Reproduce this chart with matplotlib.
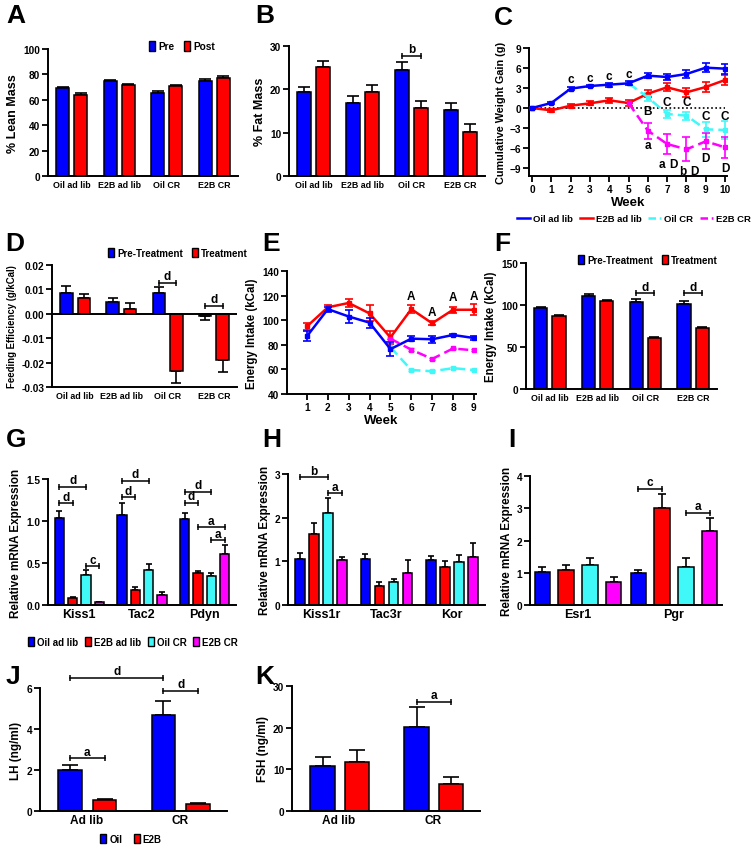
import numpy as np
import matplotlib
matplotlib.use('Agg')
import matplotlib.pyplot as plt
from matplotlib.patches import Patch
from matplotlib.lines import Line2D

plt.rcParams['font.family'] = ['Liberation Sans', 'DejaVu Sans']
plt.rcParams['font.weight'] = 'bold'
plt.rcParams['axes.labelweight'] = 'bold'
plt.rcParams['axes.linewidth'] = 1.4

# ---------------- DATA ----------------
cats4 = ['Oil ad lib', 'E2B ad lib', 'Oil CR', 'E2B CR']

# A: % lean mass
lean_pre = [69.0, 74.5, 65.5, 75.0]
lean_pre_err = [1.2, 1.0, 1.4, 1.6]
lean_post = [64.0, 71.5, 71.0, 77.5]
lean_post_err = [1.0, 1.2, 1.0, 1.0]

# B: % fat mass
fat_pre = [19.3, 16.9, 24.4, 15.3]
fat_pre_err = [1.3, 1.5, 1.8, 1.6]
fat_post = [25.2, 19.3, 15.6, 10.2]
fat_post_err = [1.4, 1.8, 1.6, 1.8]

# C: cumulative weight gain
weeks_c = [0, 1, 2, 3, 4, 5, 6, 7, 8, 9, 10]
gain_oil_adlib = [0, 0.75, 2.9, 3.3, 3.5, 3.7, 4.85, 4.65, 5.1, 6.05, 5.9]
gain_oil_adlib_err = [0.1, 0.15, 0.2, 0.2, 0.3, 0.3, 0.35, 0.4, 0.6, 0.65, 0.75]
gain_e2b_adlib = [0, -0.35, 0.35, 0.7, 1.15, 0.75, 2.15, 3.1, 2.35, 3.15, 4.2]
gain_e2b_adlib_err = [0.1, 0.2, 0.3, 0.3, 0.4, 0.5, 0.5, 0.6, 0.7, 0.7, 0.8]
weeks_c_cr = [5, 6, 7, 8, 9, 10]
gain_oil_cr = [3.7, 1.6, -0.9, -1.15, -3.2, -3.3]
gain_oil_cr_err = [0, 0.6, 0.6, 0.6, 1.1, 1.3]
gain_e2b_cr = [0.75, -3.4, -5.4, -6.2, -5.0, -5.9]
gain_e2b_cr_err = [0, 1.2, 1.5, 1.8, 1.2, 1.6]
c_letters = ['c', 'c', 'c', 'c', 'B', 'C', 'C', 'C', 'C', 'a', 'a', 'D', 'b', 'D', 'D', 'D']
c_letter_x = [2, 3, 4, 5, 6, 7, 8, 9, 10, 6, 6.75, 7.3, 7.8, 8.4, 9, 10]
c_letter_y = [4.3, 4.55, 4.75, 5.1, -0.5, 0.85, 0.85, -1.2, -1.2, -5.6, -8.4, -8.4, -9.4, -9.4, -7.5, -9.0]

# D: feeding efficiency
fe_pre = [0.0085, 0.005, 0.0085, -0.0009]
fe_pre_err = [0.003, 0.0015, 0.0025, 0.0016]
fe_trt = [0.0065, 0.002, -0.0233, -0.0191]
fe_trt_err = [0.0015, 0.0024, 0.005, 0.0049]

# E: energy intake per week
weeks_e = [1, 2, 3, 4, 5, 6, 7, 8, 9]
ei_oil_adlib = [87, 109, 103, 98, 76.5, 85, 84.5, 88, 85.5]
ei_oil_adlib_err = [4, 2, 5, 4, 6, 2, 3, 1, 2]
ei_e2b_adlib = [95, 110.5, 114, 105.5, 86, 109, 97.5, 108.5, 108.5]
ei_e2b_adlib_err = [3, 2, 3, 6.5, 5, 3.5, 1.5, 2.5, 4.5]
weeks_e_cr = [5, 6, 7, 8, 9]
ei_oil_cr = [78, 59.5, 58.5, 61, 59.5]
ei_oil_cr_err = [0, 1.0, 1.0, 0.8, 0.8]
ei_e2b_cr = [85, 76, 68.5, 77, 75.5]
ei_e2b_cr_err = [0, 1.0, 1.0, 0.8, 0.8]
e_letters = ['A', 'A', 'A', 'A']
e_letter_x = [6, 7, 8, 9]
e_letter_y = [120, 106.5, 119, 120]

# F: energy intake bars
ei_pre = [96, 111, 104, 101.5]
ei_pre_err = [2, 2, 3, 3]
ei_trt = [87, 105, 61, 73]
ei_trt_err = [0.6, 1.5, 0.5, 0.6]

groups4 = ['Oil ad lib', 'E2B ad lib', 'Oil CR', 'E2B CR']

# G
genes_g = ['Kiss1', 'Tac2', 'Pdyn']
g_oil_adlib = [1.03, 1.07, 1.02]
g_oil_adlib_err = [0.09, 0.15, 0.07]
g_e2b_adlib = [0.08, 0.18, 0.38]
g_e2b_adlib_err = [0.015, 0.04, 0.03]
g_oil_cr = [0.36, 0.42, 0.34]
g_oil_cr_err = [0.06, 0.07, 0.04]
g_e2b_cr = [0.03, 0.12, 0.61]
g_e2b_cr_err = [0.01, 0.03, 0.11]

# H
genes_h = ['Kiss1r', 'Tac3r', 'Kor']
h_oil_adlib = [1.05, 1.05, 1.02]
h_oil_adlib_err = [0.13, 0.11, 0.10]
h_e2b_adlib = [1.62, 0.43, 0.88]
h_e2b_adlib_err = [0.26, 0.10, 0.12]
h_oil_cr = [2.10, 0.52, 0.99]
h_oil_cr_err = [0.35, 0.07, 0.15]
h_e2b_cr = [1.02, 0.73, 1.10]
h_e2b_cr_err = [0.08, 0.29, 0.31]

# I
genes_i = ['Esr1', 'Pgr']
i_oil_adlib = [1.02, 1.00]
i_oil_adlib_err = [0.17, 0.10]
i_e2b_adlib = [1.10, 3.02]
i_e2b_adlib_err = [0.15, 0.42]
i_oil_cr = [1.25, 1.17]
i_oil_cr_err = [0.20, 0.28]
i_e2b_cr = [0.70, 2.30]
i_e2b_cr_err = [0.17, 0.40]

# J / K
diets = ['Ad lib', 'CR']
lh_oil = [2.02, 4.68]
lh_oil_err = [0.22, 0.70]
lh_e2b = [0.55, 0.33]
lh_e2b_err = [0.05, 0.05]
fsh_oil = [10.8, 20.2]
fsh_oil_err = [2.2, 4.7]
fsh_e2b = [11.7, 6.6]
fsh_e2b_err = [3.0, 1.6]

BLUE = '#0000FF'
RED = '#FF0000'
CYAN = '#40F8F8'
MAG = '#FF00FF'

W, H = 754, 853
fig = plt.figure(figsize=(W / 100, H / 100), dpi=100)


def add_ax(l, t, r, b):
    return fig.add_axes([l / W, 1 - b / H, (r - l) / W, (b - t) / H])


def style(ax, ylabel, ysize=8.5, xtick_len=0):
    ax.spines['top'].set_visible(False)
    ax.spines['right'].set_visible(False)
    ax.tick_params(axis='y', direction='out', length=4, width=1.3, labelsize=7.3, pad=1.5)
    ax.tick_params(axis='x', direction='out', length=xtick_len, width=1.3, labelsize=6.4, pad=3)
    ax.set_ylabel(ylabel, fontsize=ysize, fontweight='bold', labelpad=3)


def bars(ax, centers, vals, errs, color, width, cap, neg=False):
    ax.bar(centers, vals, width=width, color=color, edgecolor='k', linewidth=1.1, zorder=2)
    lo = [e if v < 0 else 0 for v, e in zip(vals, errs)]
    hi = [0 if v < 0 else e for v, e in zip(vals, errs)]
    ax.errorbar(centers, vals, yerr=[lo, hi], fmt='none', ecolor='k', elinewidth=1.2,
                capsize=cap, capthick=1.2, zorder=1)


def bracket(ax, x1, x2, y, label, fs=8.5):
    ax.plot([x1, x2], [y, y], color='k', lw=1.1, marker='|', markersize=5,
            markeredgewidth=1.1, clip_on=False, zorder=5)
    ax.annotate(label, ((x1 + x2) / 2, y), xytext=(0, 0.5), textcoords='offset points',
                ha='center', va='bottom', fontsize=fs, fontweight='bold', annotation_clip=False)


def letter(x, y, s):
    fig.text(x / W, 1 - y / H, s, fontsize=19, fontweight='bold', ha='left', va='top')


def sq_legend(handles_colors, labels, cx, cy, fs=7, colsp=1.0):
    hs = [Patch(facecolor=c, edgecolor='k', linewidth=1.0) for c in handles_colors]
    fig.legend(hs, labels, loc='center', bbox_to_anchor=(cx / W, 1 - cy / H), ncol=len(hs),
               frameon=False, fontsize=fs, handlelength=0.6, handleheight=1.1,
               handletextpad=0.3, columnspacing=colsp, borderpad=0, borderaxespad=0)


# ---------------- A ----------------
x4 = np.arange(4) + 0.5
axA = add_ax(48, 50, 238, 177)
bars(axA, x4 - 0.19, lean_pre, lean_pre_err, BLUE, 0.28, 4)
bars(axA, x4 + 0.19, lean_post, lean_post_err, RED, 0.28, 4)
axA.set_xlim(0, 4)
axA.set_ylim(0, 100)
axA.set_yticks([0, 20, 40, 60, 80, 100])
axA.set_xticks(x4)
axA.set_xticklabels(cats4)
style(axA, '% Lean Mass', 9)
sq_legend([BLUE, RED], ['Pre', 'Post'], 182, 47, fs=7.3)
letter(6, 4, 'A')

# ---------------- B ----------------
axB = add_ax(289, 47, 485, 177)
bars(axB, x4 - 0.19, fat_pre, fat_pre_err, BLUE, 0.28, 4)
bars(axB, x4 + 0.19, fat_post, fat_post_err, RED, 0.28, 4)
axB.set_xlim(0, 4)
axB.set_ylim(0, 30)
axB.set_yticks([0, 10, 20, 30])
axB.set_xticks(x4)
axB.set_xticklabels(cats4)
style(axB, '% Fat Mass', 9)
bracket(axB, x4[2] - 0.19, x4[2] + 0.19, 27.7, 'b')
letter(255, 4, 'B')

# ---------------- C ----------------
axC = add_ax(529, 49, 727, 177)
axC.plot([0, 10], [0, 0], color='k', ls=(0, (1, 1.5)), lw=1.2, zorder=1)
axC.errorbar(weeks_c, gain_oil_adlib, yerr=gain_oil_adlib_err, color=BLUE, lw=1.8,
             marker='s', ms=2.5, capsize=3, capthick=1.2, elinewidth=1.2, label='Oil ad lib', zorder=4)
axC.errorbar(weeks_c, gain_e2b_adlib, yerr=gain_e2b_adlib_err, color=RED, lw=1.8,
             marker='s', ms=2.5, capsize=3, capthick=1.2, elinewidth=1.2, label='E2B ad lib', zorder=3)
axC.errorbar(weeks_c_cr, gain_oil_cr, yerr=gain_oil_cr_err, color=CYAN, lw=1.8, ls=(0, (4, 2)),
             marker='s', ms=2.5, capsize=3, capthick=1.2, elinewidth=1.2, label='Oil CR', zorder=3)
axC.errorbar(weeks_c_cr, gain_e2b_cr, yerr=gain_e2b_cr_err, color=MAG, lw=1.8, ls=(0, (4, 2)),
             marker='s', ms=2.5, capsize=3, capthick=1.2, elinewidth=1.2, label='E2B CR', zorder=3)
for s, xx, yy in zip(c_letters, c_letter_x, c_letter_y):
    axC.text(xx, yy, s, ha='center', va='center', fontsize=8.5, fontweight='bold')
axC.set_xlim(-0.155, 10.1)
axC.set_ylim(-10.2, 9)
axC.set_xticks(range(11))
axC.set_yticks([-9, -6, -3, 0, 3, 6, 9])
style(axC, 'Cumulative Weight Gain (g)', 7.8, xtick_len=4)
axC.tick_params(axis='x', labelsize=7.3, pad=1.5)
axC.set_xlabel('Week', fontsize=9.5, fontweight='bold', labelpad=2)
hC = [Line2D([], [], color=c, lw=1.8, ls=l) for c, l in
      [(BLUE, '-'), (RED, '-'), (CYAN, (0, (3, 1.5))), (MAG, (0, (3, 1.5)))]]
fig.legend(hC, ['Oil ad lib', 'E2B ad lib', 'Oil CR', 'E2B CR'], loc='center',
           bbox_to_anchor=(634 / W, 1 - 220 / H), ncol=4, frameon=False, fontsize=6.8,
           handlelength=1.4, handletextpad=0.3, columnspacing=0.7, borderpad=0)
letter(494, 6, 'C')

# ---------------- D ----------------
axD = add_ax(52, 266, 237, 388)
axD.axhline(0, color='k', lw=1.4, zorder=3)
bars(axD, x4 - 0.19, fe_pre, fe_pre_err, BLUE, 0.27, 3.5)
bars(axD, x4 + 0.19, fe_trt, fe_trt_err, RED, 0.27, 3.5)
axD.set_xlim(0, 4)
axD.set_ylim(-0.03, 0.02)
axD.set_yticks([-0.03, -0.02, -0.01, 0.0, 0.01, 0.02])
axD.set_yticklabels(['-0.03', '-0.02', '-0.01', '0.00', '0.01', '0.02'])
axD.set_xticks(x4)
axD.set_xticklabels(cats4)
style(axD, 'Feeding Efficiency (g/kCal)', 6.9)
bracket(axD, x4[2] - 0.19, x4[2] + 0.19, 0.0127, 'd')
bracket(axD, x4[3] - 0.19, x4[3] + 0.19, 0.0032, 'd')
sq_legend([BLUE, RED], ['Pre-Treatment', 'Treatment'], 178, 254, fs=7)
letter(5, 232, 'D')

# ---------------- E ----------------
axE = add_ax(287, 272, 476, 395)
axE.errorbar(weeks_e, ei_oil_adlib, yerr=ei_oil_adlib_err, color=BLUE, lw=1.8,
             marker='s', ms=2.5, capsize=3, capthick=1.2, elinewidth=1.2, zorder=4)
axE.errorbar(weeks_e, ei_e2b_adlib, yerr=ei_e2b_adlib_err, color=RED, lw=1.8,
             marker='s', ms=2.5, capsize=3, capthick=1.2, elinewidth=1.2, zorder=3)
axE.errorbar(weeks_e_cr, ei_oil_cr, yerr=ei_oil_cr_err, color=CYAN, lw=1.8, ls=(0, (4, 2)),
             marker='s', ms=2.5, capsize=2, capthick=1.0, elinewidth=1.0, zorder=3)
axE.errorbar(weeks_e_cr, ei_e2b_cr, yerr=ei_e2b_cr_err, color=MAG, lw=1.8, ls=(0, (4, 2)),
             marker='s', ms=2.5, capsize=2, capthick=1.0, elinewidth=1.0, zorder=3)
for s, xx, yy in zip(e_letters, e_letter_x, e_letter_y):
    axE.text(xx, yy, s, ha='center', va='center', fontsize=8.5, fontweight='bold')
axE.set_xlim(0.042, 9.1)
axE.set_ylim(40, 140)
axE.set_xticks(weeks_e)
axE.set_yticks([40, 60, 80, 100, 120, 140])
style(axE, 'Energy Intake (kCal)', 8.3, xtick_len=4)
axE.tick_params(axis='x', labelsize=7.3, pad=1.5)
axE.set_xlabel('Week', fontsize=9.5, fontweight='bold', labelpad=2)
letter(262, 232, 'E')

# ---------------- F ----------------
axF = add_ax(526, 264, 717, 390)
bars(axF, x4 - 0.19, ei_pre, ei_pre_err, BLUE, 0.28, 3.5)
bars(axF, x4 + 0.19, ei_trt, ei_trt_err, RED, 0.28, 3.5)
axF.set_xlim(0, 4)
axF.set_ylim(0, 150)
axF.set_yticks([0, 50, 100, 150])
axF.set_xticks(x4)
axF.set_xticklabels(cats4)
style(axF, 'Energy Intake (kCal)', 8.3)
bracket(axF, x4[2] - 0.19, x4[2] + 0.19, 114, 'd')
bracket(axF, x4[3] - 0.19, x4[3] + 0.19, 114, 'd')
sq_legend([BLUE, RED], ['Pre-Treatment', 'Treatment'], 648, 261, fs=7)
letter(494, 232, 'F')

# ---------------- G / H / I ----------------
off4 = [-0.32, -0.107, 0.107, 0.32]
cols4 = [BLUE, RED, CYAN, MAG]


def four_bars(ax, vals_list, err_list, ngroups, offs, width, cap):
    xc = np.arange(ngroups) + 0.5
    for o, v, e, c in zip(offs, vals_list, err_list, cols4):
        bars(ax, xc + o, v, e, c, width, cap)
    ax.set_xlim(0, ngroups)
    ax.set_xticks(xc)
    return xc


axG = add_ax(48, 480, 236, 606)
xg = four_bars(axG, [g_oil_adlib, g_e2b_adlib, g_oil_cr, g_e2b_cr],
               [g_oil_adlib_err, g_e2b_adlib_err, g_oil_cr_err, g_e2b_cr_err], 3, off4, 0.15, 2.5)
axG.set_ylim(0, 1.5)
axG.set_yticks([0, 0.5, 1.0, 1.5])
axG.set_yticklabels(['0.0', '0.5', '1.0', '1.5'])
axG.set_xticklabels(genes_g)
style(axG, 'Relative mRNA Expression', 8.4)
axG.tick_params(axis='x', labelsize=9, pad=2)
bracket(axG, xg[0] + off4[0], xg[0] + off4[1], 1.21, 'd')
bracket(axG, xg[0] + off4[0], xg[0] + off4[2], 1.41, 'd')
bracket(axG, xg[0] + off4[2], xg[0] + off4[3], 0.46, 'c')
bracket(axG, xg[1] + off4[0], xg[1] + off4[1], 1.28, 'd')
bracket(axG, xg[1] + off4[0], xg[1] + off4[2], 1.48, 'd')
bracket(axG, xg[2] + off4[0], xg[2] + off4[1], 1.22, 'd')
bracket(axG, xg[2] + off4[0], xg[2] + off4[2], 1.35, 'd')
bracket(axG, xg[2] + off4[1], xg[2] + off4[3], 0.925, 'a')
bracket(axG, xg[2] + off4[2], xg[2] + off4[3], 0.77, 'a')
sq_legend(cols4, ['Oil ad lib', 'E2B ad lib', 'Oil CR', 'E2B CR'], 133, 643, fs=7, colsp=0.7)
letter(6, 428, 'G')

axH = add_ax(288, 475, 485, 606)
xh = four_bars(axH, [h_oil_adlib, h_e2b_adlib, h_oil_cr, h_e2b_cr],
               [h_oil_adlib_err, h_e2b_adlib_err, h_oil_cr_err, h_e2b_cr_err], 3, off4, 0.15, 2.5)
axH.set_ylim(0, 3)
axH.set_yticks([0, 1, 2, 3])
axH.set_xticklabels(genes_h)
style(axH, 'Relative mRNA Expression', 8.4)
axH.tick_params(axis='x', labelsize=9, pad=2)
bracket(axH, xh[0] + off4[0], xh[0] + off4[2], 2.92, 'b')
bracket(axH, xh[0] + off4[2], xh[0] + off4[3], 2.56, 'a')
letter(262, 428, 'H')

offI = [-0.37, -0.125, 0.125, 0.37]
axI = add_ax(530, 477, 722, 606)
xi = four_bars(axI, [i_oil_adlib, i_e2b_adlib, i_oil_cr, i_e2b_cr],
               [i_oil_adlib_err, i_e2b_adlib_err, i_oil_cr_err, i_e2b_cr_err], 2, offI, 0.16, 3)
axI.set_ylim(0, 4)
axI.set_yticks([0, 1, 2, 3, 4])
axI.set_xticklabels(genes_i)
style(axI, 'Relative mRNA Expression', 8.4)
axI.tick_params(axis='x', labelsize=9, pad=2)
bracket(axI, xi[1] + offI[0], xi[1] + offI[1], 3.6, 'c')
bracket(axI, xi[1] + offI[2], xi[1] + offI[3], 2.85, 'a')
letter(508, 428, 'I')

# ---------------- J ----------------
x2 = np.arange(2) + 0.5
axJ = add_ax(40, 689, 227, 812)
bars(axJ, x2 - 0.18, lh_oil, lh_oil_err, BLUE, 0.25, 5.5)
bars(axJ, x2 + 0.19, lh_e2b, lh_e2b_err, RED, 0.25, 5.5)
axJ.set_xlim(0, 2)
axJ.set_ylim(0, 6)
axJ.set_yticks([0, 2, 4, 6])
axJ.set_xticks(x2)
axJ.set_xticklabels(diets)
style(axJ, 'LH (ng/ml)', 8.5)
axJ.tick_params(axis='x', labelsize=8.6, pad=2)
bracket(axJ, x2[0] - 0.18, x2[0] + 0.19, 2.57, 'a')
bracket(axJ, x2[0] - 0.18, x2[1] - 0.18, 6.5, 'd')
bracket(axJ, x2[1] - 0.18, x2[1] + 0.19, 5.87, 'd')
sq_legend([BLUE, RED], ['Oil', 'E2B'], 131, 840, fs=7, colsp=1.2)
letter(6, 665, 'J')

# ---------------- K ----------------
axK = add_ax(292, 687, 480, 812)
bars(axK, x2 - 0.175, fsh_oil, fsh_oil_err, BLUE, 0.26, 6)
bars(axK, x2 + 0.19, fsh_e2b, fsh_e2b_err, RED, 0.26, 6)
axK.set_xlim(0, 2)
axK.set_ylim(0, 30)
axK.set_yticks([0, 10, 20, 30])
axK.set_xticks(x2)
axK.set_xticklabels(diets)
style(axK, 'FSH (ng/ml)', 8.5)
axK.tick_params(axis='x', labelsize=8.6, pad=2)
bracket(axK, x2[1] - 0.175, x2[1] + 0.19, 26.2, 'a')
letter(255, 665, 'K')

fig.savefig('out.png', dpi=100)
